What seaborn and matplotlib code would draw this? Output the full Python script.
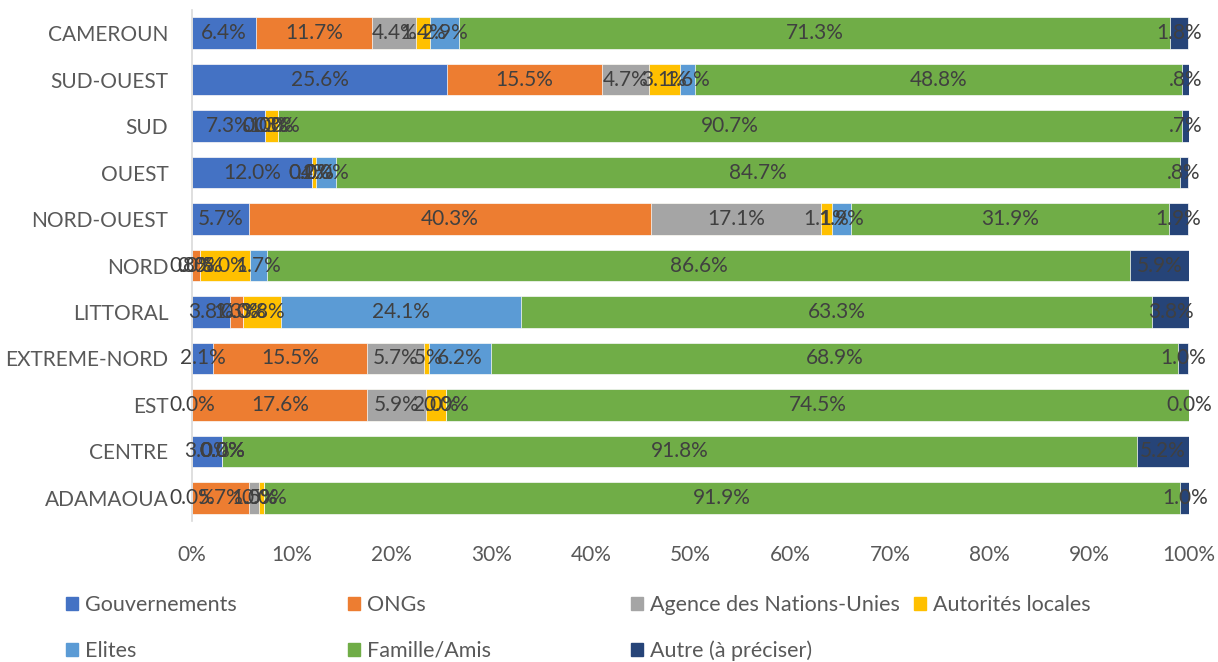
import matplotlib
matplotlib.use("Agg")
import matplotlib.pyplot as plt
import matplotlib.patches as mpatches
import numpy as np
import seaborn as sns

# Data (percent)
regions = ["CAMEROUN", "SUD-OUEST", "SUD", "OUEST", "NORD-OUEST", "NORD",
           "LITTORAL", "EXTREME-NORD", "EST", "CENTRE", "ADAMAOUA"]
gouvernements = [6.4, 25.6, 7.3, 12.0, 5.7, 0.0, 3.8, 2.1, 0.0, 3.0, 0.0]
ongs = [11.7, 15.5, 0.0, 0.0, 40.3, 0.8, 1.3, 15.5, 17.6, 0.0, 5.7]
agence_nu = [4.4, 4.7, 0.0, 0.0, 17.1, 0.0, 0.0, 5.7, 5.9, 0.0, 1.0]
autorites = [1.4, 3.1, 1.3, 0.4, 1.1, 5.0, 3.8, 0.5, 2.0, 0.0, 0.5]
elites = [2.9, 1.6, 0.0, 2.0, 1.9, 1.7, 24.1, 6.2, 0.0, 0.0, 0.0]
famille = [71.3, 48.8, 90.7, 84.7, 31.9, 86.6, 63.3, 68.9, 74.5, 91.8, 91.9]
autre = [1.8, 0.8, 0.7, 0.8, 1.9, 5.9, 3.8, 1.0, 0.0, 5.2, 1.0]

series_names = ["Gouvernements", "ONGs", "Agence des Nations-Unies",
                "Autorités locales", "Elites", "Famille/Amis", "Autre (à préciser)"]
series_values = [gouvernements, ongs, agence_nu, autorites, elites, famille, autre]
colors = ["#4472C4", "#ED7D31", "#A5A5A5", "#FFC000", "#5B9BD5", "#70AD47", "#264478"]

sns.set_style("white")
plt.rcParams["font.family"] = ["Lato", "DejaVu Sans"]

fig = plt.figure(figsize=(12.18, 6.62), dpi=100)
ax = fig.add_axes([192 / 1218, 1 - 521 / 662, (1189 - 192) / 1218, (521 - 10) / 662])

vals = np.array(series_values)
cums = np.cumsum(vals, axis=0)

# stacked bars: draw cumulative totals from the outermost layer inwards
for k in range(len(series_names) - 1, -1, -1):
    sns.barplot(x=cums[k], y=regions, order=regions, orient="y", color=colors[k],
                saturation=1, width=0.68, edgecolor="white", linewidth=0.5, ax=ax)


def fmt(v):
    s = f"{v:.1f}%"
    if 0 < v < 1:
        s = s[1:]
    return s


for k in range(len(series_names)):
    for i in range(len(regions)):
        v = vals[k, i]
        left = cums[k, i] - v
        ax.text(left + v / 2, i, fmt(v), ha="center", va="center",
                fontsize=15, color="#404040")

ax.set_xlim(0, 100)
ax.set_xticks(np.arange(0, 101, 10))
ax.set_xticklabels([f"{t}%" for t in range(0, 101, 10)])
ax.set_xlabel("")
ax.set_ylabel("")
ax.tick_params(axis="x", length=0, pad=17, labelsize=15, labelcolor="#595959")
ax.tick_params(axis="y", length=0, pad=17, labelsize=15, labelcolor="#595959")
for side in ["top", "right", "bottom"]:
    ax.spines[side].set_visible(False)
ax.spines["left"].set_color("#D9D9D9")
ax.spines["left"].set_linewidth(1.2)

# legend laid out row by row like the original (4 columns, 2 rows)
handles = [mpatches.Patch(color=c, label=n) for c, n in zip(colors, series_names)]
col_x = [66, 348, 631, 914]
columns = [[0, 4], [1, 5], [2, 6], [3]]
for cx, idx in zip(col_x, columns):
    fig.legend(handles=[handles[j] for j in idx], loc="upper left",
               bbox_to_anchor=(cx / 1218, 1 - 595 / 662), frameon=False,
               fontsize=15.5, labelcolor="#595959", handlelength=0.55,
               handleheight=0.55, handletextpad=0.35, labelspacing=1.2,
               borderpad=0, borderaxespad=0)

fig.savefig("out.png", dpi=100, facecolor="white")
